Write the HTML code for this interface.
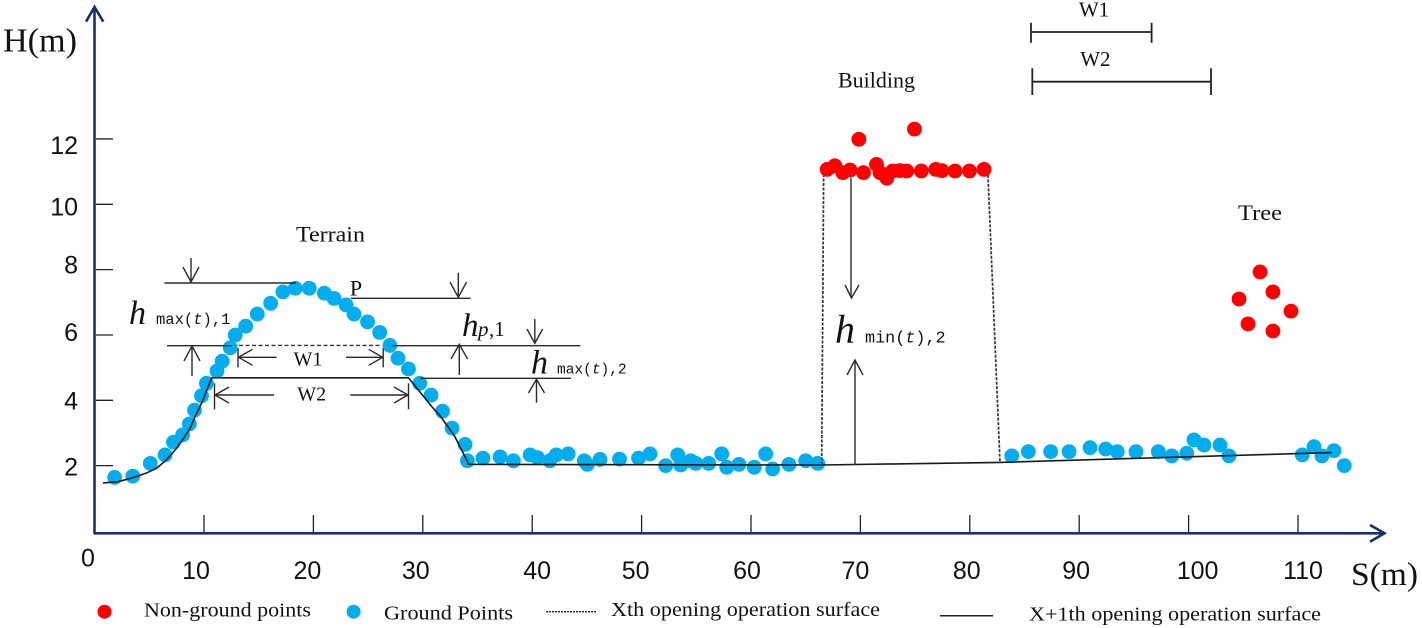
<!DOCTYPE html>
<html lang="en">
<head>
<meta charset="utf-8">
<title>Opening operation on terrain profile</title>
<style>
html,body{margin:0;padding:0;background:#fff;width:1422px;height:628px;overflow:hidden}
svg{display:block;filter:blur(0.35px)}
text{font-family:"Liberation Serif",serif;fill:#111}
.num{font-family:"Liberation Sans",sans-serif;font-size:25px}
.lab{font-size:22px}
.leg{font-size:20px}
.sub{font-family:"Liberation Mono",monospace}
.big{font-style:italic}
.ann{fill:none;stroke:#2a2a2a;stroke-width:1.4}
.annd{fill:none;stroke:#222;stroke-width:1.8}
</style>
</head>
<body>
<svg id="chart" width="1422" height="628" viewBox="0 0 1422 628" xmlns="http://www.w3.org/2000/svg">
  <g id="ticks"></g>
  <g id="ground"></g>
  <g id="surfaces"></g>
  <g id="nonground"></g>

  <g fill="none" stroke="#17306f" stroke-width="2.6">
    <path d="M94.5 534 V8 M86 21.7 L94.5 7 L103.3 21.7"/>
    <path d="M94 533.3 H1383 M1370 525 L1384.5 533.3 L1370 541.7"/>
  </g>
  <g id="tick-labels"></g>
  <text x="3" y="51.5" font-size="34" textLength="74" lengthAdjust="spacingAndGlyphs">H(m)</text>
  <text x="1351" y="585" font-size="33" textLength="67" lengthAdjust="spacingAndGlyphs">S(m)</text>

  <text class="lab" x="296" y="241.5" textLength="69" lengthAdjust="spacingAndGlyphs">Terrain</text>
  <text class="lab" x="838" y="87.5" textLength="77" lengthAdjust="spacingAndGlyphs">Building</text>
  <text class="lab" x="1238" y="220" textLength="44" lengthAdjust="spacingAndGlyphs">Tree</text>

  <g>
    <path class="annd" d="M1031 22.7 V42.7 M1031 32 H1151.6 M1151.6 22.7 V42.7"/>
    <text x="1094" y="16.5" font-size="21" text-anchor="middle">W1</text>
    <path class="annd" d="M1032.3 68.3 V95 M1032.3 81.7 H1211 M1211 68.3 V95"/>
    <text x="1095.4" y="66" font-size="21" text-anchor="middle">W2</text>
  </g>

  <g>
    <path class="ann" d="M164.4 283 H296"/>
    <path class="ann" d="M191 258 V282 M183 267 L191 282 L199 267"/>
    <text x="356" y="295.5" font-size="22" text-anchor="middle">P</text>
    <path class="ann" d="M351 298.3 H470.6"/>
    <path class="ann" d="M458.3 272.7 V297.3 M450 282 L458.3 297.3 L466.6 282"/>
    <text y="324"><tspan class="big" x="129" font-size="34">h</tspan><tspan class="sub" x="156" font-size="15.5">max(<tspan font-style="italic">t</tspan>),1</tspan></text>
    <path class="ann" d="M167 345.7 H232"/>
    <path class="ann" d="M192 376 V346 M184 361 L192 346 L200 361"/>
    <path class="ann" d="M392 345.7 H580.3"/>
    <text y="336"><tspan class="big" x="462" font-size="33">h</tspan><tspan class="big" x="478" font-size="21">p</tspan><tspan x="489" font-size="21">,1</tspan></text>
    <path class="ann" d="M534.8 319 V343.3 M527 329 L534.8 343.3 L542.6 329"/>
    <path class="ann" d="M459.3 375 V344.3 M451 359 L459.3 344.3 L467.6 359"/>
    <path class="ann" d="M420 378.3 H571" stroke="#555"/>
    <text y="373.5"><tspan class="big" x="531" font-size="34">h</tspan><tspan class="sub" x="557" font-size="14.5">max(<tspan font-style="italic">t</tspan>),2</tspan></text>
    <path class="ann" d="M536.5 402.7 V379.3 M528.5 393 L536.5 379.3 L544.5 393"/>

    <path class="ann" d="M238 348.3 V367.3"/>
    <path class="ann" d="M383.2 348.3 V367.3"/>
    <path class="ann" d="M276.6 357.3 H238.5 M252.5 349.3 L238.5 357.3 L252.5 365.3"/>
    <path class="ann" d="M346 357.3 H382.7 M368.7 349.3 L382.7 357.3 L368.7 365.3"/>
    <text x="308" y="365.5" font-size="20" text-anchor="middle">W1</text>

    <path class="ann" d="M214.5 383.3 V409.3"/>
    <path class="ann" d="M408.5 383.3 V409.3"/>
    <path class="ann" d="M274 395 H215 M229 387 L215 395 L229 403"/>
    <path class="ann" d="M350.3 395 H408 M394 387 L408 395 L394 403"/>
    <text x="311.7" y="400.5" font-size="20" text-anchor="middle">W2</text>
  </g>

  <g>
    <path class="ann" d="M851 178 V298 M845 285 L851.5 298 L859 285"/>
    <path class="ann" d="M855 465 V360 M847 375 L855 360 L863 375"/>
    <text y="342.5"><tspan class="big" x="835" font-size="40">h</tspan><tspan class="sub" x="865" font-size="16.8">min(<tspan font-style="italic">t</tspan>),2</tspan></text>
  </g>

  <g>
    <circle cx="104.5" cy="611.7" r="7" fill="#ff0000"/>
    <text class="leg" x="144" y="616.5" textLength="167" lengthAdjust="spacingAndGlyphs">Non-ground points</text>
    <circle cx="353.6" cy="611.7" r="7" fill="#00aeef"/>
    <text class="leg" x="384" y="619.3" textLength="129" lengthAdjust="spacingAndGlyphs">Ground Points</text>
    <line x1="546" y1="611.7" x2="596" y2="611.7" stroke="#222" stroke-width="1.4" stroke-dasharray="2 1"/>
    <text class="leg" x="611" y="616" textLength="269" lengthAdjust="spacingAndGlyphs">Xth opening operation surface</text>
    <line x1="940" y1="615.7" x2="993" y2="615.7" stroke="#222" stroke-width="1.5"/>
    <text class="leg" x="1029" y="620.7" textLength="292" lengthAdjust="spacingAndGlyphs">X+1th opening operation surface</text>
  </g>
</svg>

<script>
// Axis ticks and labels
const xTickValues = [10, 20, 30, 40, 50, 60, 70, 80, 90, 100, 110];
const xTickLabels = ["10", "20", "30", "40", "50", "60", "70", "80", "90", "100", "110"];
const yTickValues = [2, 4, 6, 8, 10, 12];
const yTickLabels = ["2", "4", "6", "8", "10", "12"];

// Ground points (distance S, height H)
const groundS = [1.83, 3.49, 5.09, 6.44, 7.21, 8.04, 8.66, 9.13, 9.77, 10.22, 11.19, 11.66, 12.40, 12.85, 13.81, 14.87, 16.09, 17.21, 18.34, 19.62, 21.0, 21.88, 22.98, 23.71, 24.95, 26.06, 26.99, 27.73, 28.69, 29.72, 30.75, 31.80, 32.67, 33.86, 34.08, 35.50, 37.06, 38.28, 39.81, 40.47, 41.60, 42.19, 43.29, 44.76, 45.04, 46.20, 47.98, 49.72, 50.77, 52.20, 53.30, 53.57, 54.49, 54.95, 56.13, 57.32, 57.78, 58.90, 60.30, 61.34, 61.98, 63.47, 65.0, 66.10, 83.83, 85.35, 87.39, 89.07, 90.99, 92.42, 93.48, 95.19, 97.23, 98.46, 99.83, 100.49, 101.40, 102.87, 103.69, 110.39, 111.46, 112.19, 113.29, 114.23];
const groundH = [1.64, 1.68, 2.07, 2.33, 2.72, 2.94, 3.28, 3.70, 4.14, 4.52, 4.90, 5.20, 5.61, 6.00, 6.27, 6.64, 6.97, 7.32, 7.43, 7.43, 7.28, 7.12, 6.92, 6.64, 6.40, 6.08, 5.68, 5.29, 4.96, 4.52, 4.16, 3.67, 3.15, 2.65, 2.15, 2.23, 2.27, 2.15, 2.33, 2.25, 2.15, 2.33, 2.36, 2.15, 2.04, 2.19, 2.20, 2.23, 2.36, 2.00, 2.33, 2.02, 2.15, 2.07, 2.07, 2.36, 1.95, 2.04, 1.95, 2.36, 1.90, 2.04, 2.15, 2.07, 2.30, 2.43, 2.43, 2.43, 2.55, 2.51, 2.43, 2.43, 2.43, 2.30, 2.38, 2.79, 2.63, 2.63, 2.30, 2.33, 2.58, 2.30, 2.46, 2.00];

// Non-ground points: building roof plus outliers, then tree
const nonGroundS = [69.86, 74.94, 66.96, 67.66, 68.39, 69.05, 70.28, 71.47, 71.79, 72.41, 72.94, 73.60, 74.23, 75.57, 76.89, 77.46, 78.65, 79.97, 81.30, 106.53, 107.71, 104.61, 109.36, 105.43, 107.71];
const nonGroundH = [11.99, 12.30, 11.07, 11.18, 10.97, 11.05, 10.97, 11.22, 10.97, 10.80, 11.02, 11.03, 11.02, 11.02, 11.07, 11.03, 11.02, 11.02, 11.07, 7.93, 7.32, 7.10, 6.73, 6.34, 6.12];

// X+1th opening operation surface
const surfaceNextS = [0.77, 2.14, 2.94, 3.75, 4.71, 5.67, 6.47, 7.11, 7.60, 8.24, 8.72, 9.18, 9.84, 10.70, 28.69, 30.84, 31.64, 32.93, 34.21, 66.40, 82.76, 113.08];
const surfaceNextH = [1.47, 1.51, 1.58, 1.66, 1.77, 1.92, 2.15, 2.38, 2.58, 2.89, 3.14, 3.50, 3.96, 4.69, 4.69, 3.80, 3.50, 2.89, 2.04, 2.02, 2.10, 2.40];

// Xth opening operation surface: hill crest segment and building walls
const surfaceHillS = [13.2, 26.18];
const surfaceHillH = [5.68, 5.68];
const wallLeftS = [66.46, 66.64];
const wallLeftH = [2.02, 10.90];
const wallRightS = [81.66, 82.76];
const wallRightH = [10.90, 2.10];

const NS = 'http://www.w3.org/2000/svg';
const xScale = s => 94.6 + 10.94 * s;
const yScale = h => 531 - 32.67 * h;

// Hand-placed offsets of the labels relative to their ticks in the source figure
const xLabelNudge = [-8, -6, -7, 5, -6, -4, -5, -3, -3, 9, 5];
const yLabelNudge = [10, 9, 6, 4, 11, 15];

const ticksG = document.getElementById('ticks');
const labelsG = document.getElementById('tick-labels');

xTickValues.forEach((v, i) => {
  const t = document.createElementNS(NS, 'line');
  
  
  t.setAttribute('x1', xScale(v));
  t.setAttribute('x2', xScale(v));
  t.setAttribute('y1', 515);
  t.setAttribute('y2', 533);
  t.setAttribute('stroke', '#222');
  t.setAttribute('stroke-width', 1.3);
  ticksG.appendChild(t);
  const l = document.createElementNS(NS, 'text');
  
  
  l.setAttribute('class', 'num');
  l.setAttribute('x', xScale(v) + xLabelNudge[i]);
  l.setAttribute('y', 579);
  l.setAttribute('text-anchor', 'middle');
  l.textContent = xTickLabels[i];
  labelsG.appendChild(l);
});

yTickValues.forEach((v, i) => {
  const t = document.createElementNS(NS, 'line');
  
  
  t.setAttribute('x1', 96);
  t.setAttribute('x2', 113);
  t.setAttribute('y1', yScale(v));
  t.setAttribute('y2', yScale(v));
  t.setAttribute('stroke', '#222');
  t.setAttribute('stroke-width', 1.3);
  ticksG.appendChild(t);
  const l = document.createElementNS(NS, 'text');
  
  
  l.setAttribute('class', 'num');
  l.setAttribute('x', 78);
  l.setAttribute('y', yScale(v) + yLabelNudge[i]);
  l.setAttribute('text-anchor', 'end');
  l.textContent = yTickLabels[i];
  labelsG.appendChild(l);
});

const zero = document.createElementNS(NS, 'text');


zero.setAttribute('class', 'num');
zero.setAttribute('x', 88);
zero.setAttribute('y', 566.5);
zero.setAttribute('text-anchor', 'middle');
zero.textContent = '0';
labelsG.appendChild(zero);

const groundG = document.getElementById('ground');
groundS.forEach((s, i) => {
  const c = document.createElementNS(NS, 'circle');
  
  
  c.setAttribute('cx', xScale(s));
  c.setAttribute('cy', yScale(groundH[i]));
  c.setAttribute('r', 7.4);
  c.setAttribute('fill', '#00aeef');
  groundG.appendChild(c);
});

const pts = (ss, hs) => ss.map((s, i) => xScale(s) + ',' + yScale(hs[i])).join(' ');
const surfacesG = document.getElementById('surfaces');

const nextLine = document.createElementNS(NS, 'polyline');


nextLine.setAttribute('points', pts(surfaceNextS, surfaceNextH));
nextLine.setAttribute('fill', 'none');
nextLine.setAttribute('stroke', '#1a1a1a');
nextLine.setAttribute('stroke-width', 1.6);
surfacesG.appendChild(nextLine);

const hillLine = document.createElementNS(NS, 'polyline');


hillLine.setAttribute('points', pts(surfaceHillS, surfaceHillH));
hillLine.setAttribute('fill', 'none');
hillLine.setAttribute('stroke', '#333');
hillLine.setAttribute('stroke-width', 1.3);
hillLine.setAttribute('stroke-dasharray', '4 2.5');
surfacesG.appendChild(hillLine);

const leftWall = document.createElementNS(NS, 'polyline');


leftWall.setAttribute('points', pts(wallLeftS, wallLeftH));
leftWall.setAttribute('fill', 'none');
leftWall.setAttribute('stroke', '#333');
leftWall.setAttribute('stroke-width', 1.7);
leftWall.setAttribute('stroke-dasharray', '3 1.5');
surfacesG.appendChild(leftWall);

const rightWall = document.createElementNS(NS, 'polyline');


rightWall.setAttribute('points', pts(wallRightS, wallRightH));
rightWall.setAttribute('fill', 'none');
rightWall.setAttribute('stroke', '#333');
rightWall.setAttribute('stroke-width', 1.7);
rightWall.setAttribute('stroke-dasharray', '3 1.5');
surfacesG.appendChild(rightWall);

const redG = document.getElementById('nonground');
nonGroundS.forEach((s, i) => {
  const c = document.createElementNS(NS, 'circle');
  
  
  c.setAttribute('cx', xScale(s));
  c.setAttribute('cy', yScale(nonGroundH[i]));
  c.setAttribute('r', 7.4);
  c.setAttribute('fill', '#ff0000');
  redG.appendChild(c);
});
</script>
</body>
</html>
